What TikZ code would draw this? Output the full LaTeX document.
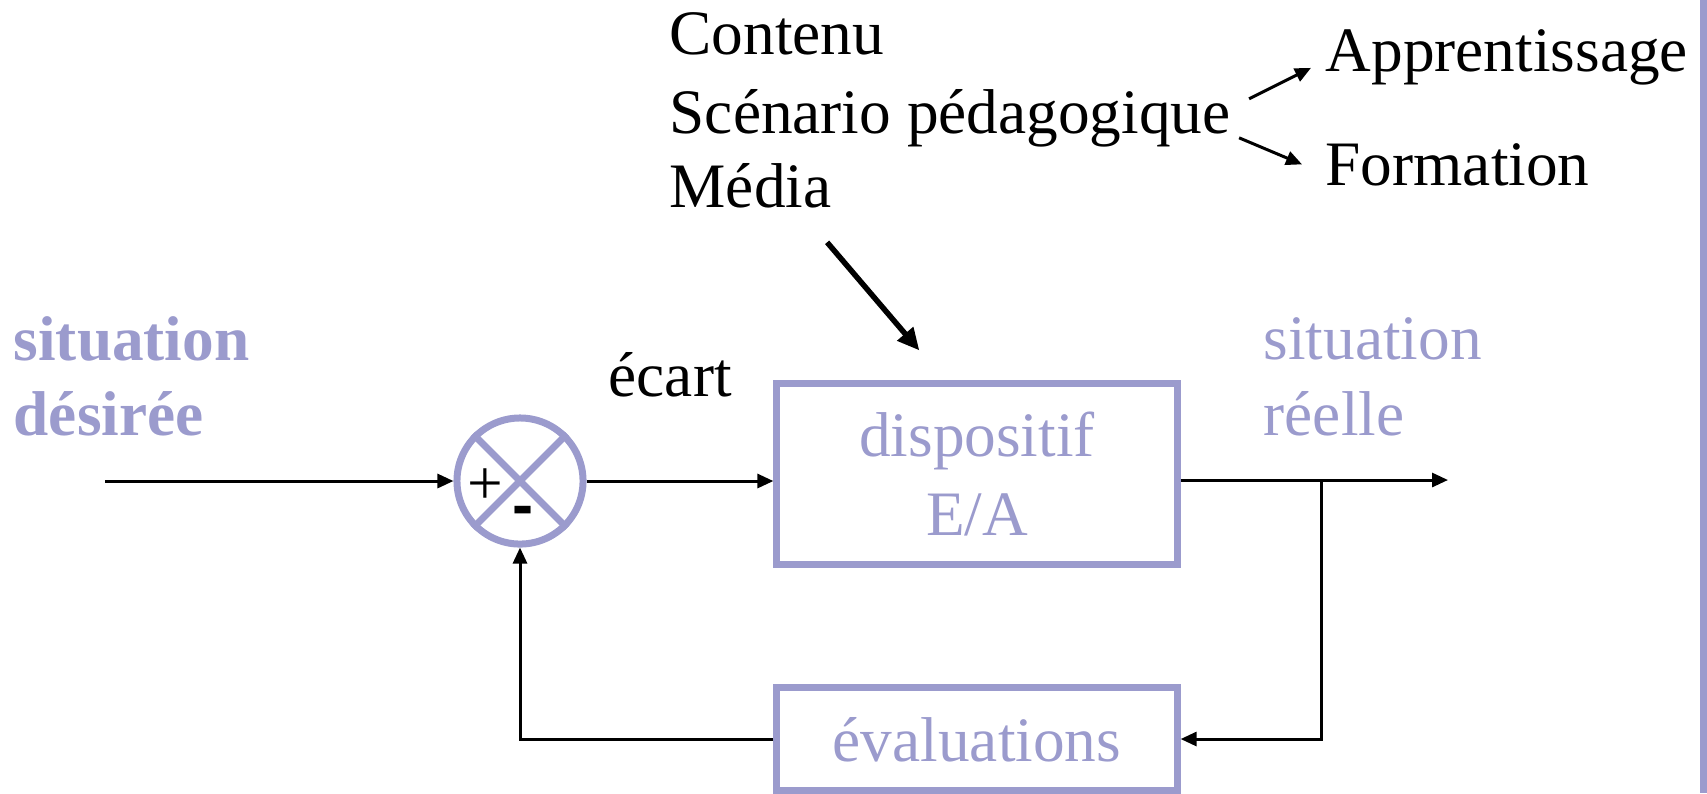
\documentclass[tikz,border=0pt]{standalone}
\usepackage{fontspec}
\setmainfont{Liberation Serif}
\setsansfont{Liberation Sans}
\usetikzlibrary{arrows.meta,calc,positioning}
\definecolor{lavande}{RGB}{155,155,205}

\begin{document}
\begin{tikzpicture}[x = 0.01cm, y = -0.01cm,
    every node/.style = {font=\fontsize{18}{21.5}\selectfont, inner sep=0pt},
    bloc/.style = {draw=lavande, line width=0.07cm, text=lavande, align=center, text depth=0pt, font=\fontsize{18}{22.4}\selectfont},
    fleche/.style = {line width=0.03cm, -{Triangle[length=0.16cm, width=0.14cm]}},
    grosse/.style = {line width=0.055cm, -{Triangle[length=0.22cm, width=0.2cm]}}]
    \useasboundingbox (0, 0) rectangle (1707, 793);
    \fill[lavande] (1700, 0) rectangle (1707, 793);
    % comparateur
    \node[circle, draw=lavande, line width=0.07cm, minimum size=1.26cm] (sum) at (520, 481) {};
    \draw[lavande, line width=0.07cm] (sum.45) -- (sum.225) (sum.135) -- (sum.-45);
    \node (plus) at (485, 487) {+};
    \node[font=\sffamily\bfseries\fontsize{18}{20}\selectfont] (moins) at (523, 516) {-};
    % blocs
    \node[bloc, minimum width=4cm, minimum height=1.8cm] (disp) at (977, 474) {dispositif\\E/A};
    \node[bloc, minimum width=4cm, minimum height=1.02cm] (eval) at (977, 739) {évaluations};
    \coordinate (in) at (105, 481);
    \coordinate (out) at (1448, 480);
    \coordinate (br) at (1321, 480);
    \draw[fleche] (in) -- (sum.west);
    \draw[fleche] (sum.east) -- (sum.east -| disp.west);
    \draw[fleche] (disp.east |- out) -- (out);
    \draw[fleche] (br) |- (eval.east);
    \draw[fleche] (eval.west) -| (sum.south);
    % textes
    \node[anchor=base west, text=lavande, font=\bfseries\fontsize{18}{21.5}\selectfont] (desir1) at (13, 360) {situation};
    \node[anchor=base west, text=lavande, font=\bfseries\fontsize{18}{21.5}\selectfont] (desir2) at (13, 435) {désirée};
    \node[anchor=base west, text=lavande] (reel1) at (1263, 359) {situation};
    \node[anchor=base west, text=lavande] (reel2) at (1263, 435) {réelle};
    \node[anchor=base west] (ecart) at (608, 396) {écart};
    \node[anchor=base west] (cont) at (669, 54) {Contenu};
    \node[anchor=base west] (scen) at (669, 133) {Scénario pédagogique};
    \node[anchor=base west] (media) at (669, 207) {Média};
    \node[anchor=base west] (appr) at (1325, 71) {Apprentissage};
    \node[anchor=base west] (form) at (1325, 185) {Formation};
    \draw[fleche] ($(scen.east) + (18, -19)$) -- ($(appr.west) + (-14, 11)$);
    \draw[fleche] ($(scen.east) + (8, 20)$) -- ($(form.west) + (-23, 0)$);
    \draw[grosse] ($(media.south east) + (-5, 34)$) -- ($(disp.north west) + (146, -30)$);
\end{tikzpicture}
\end{document}
